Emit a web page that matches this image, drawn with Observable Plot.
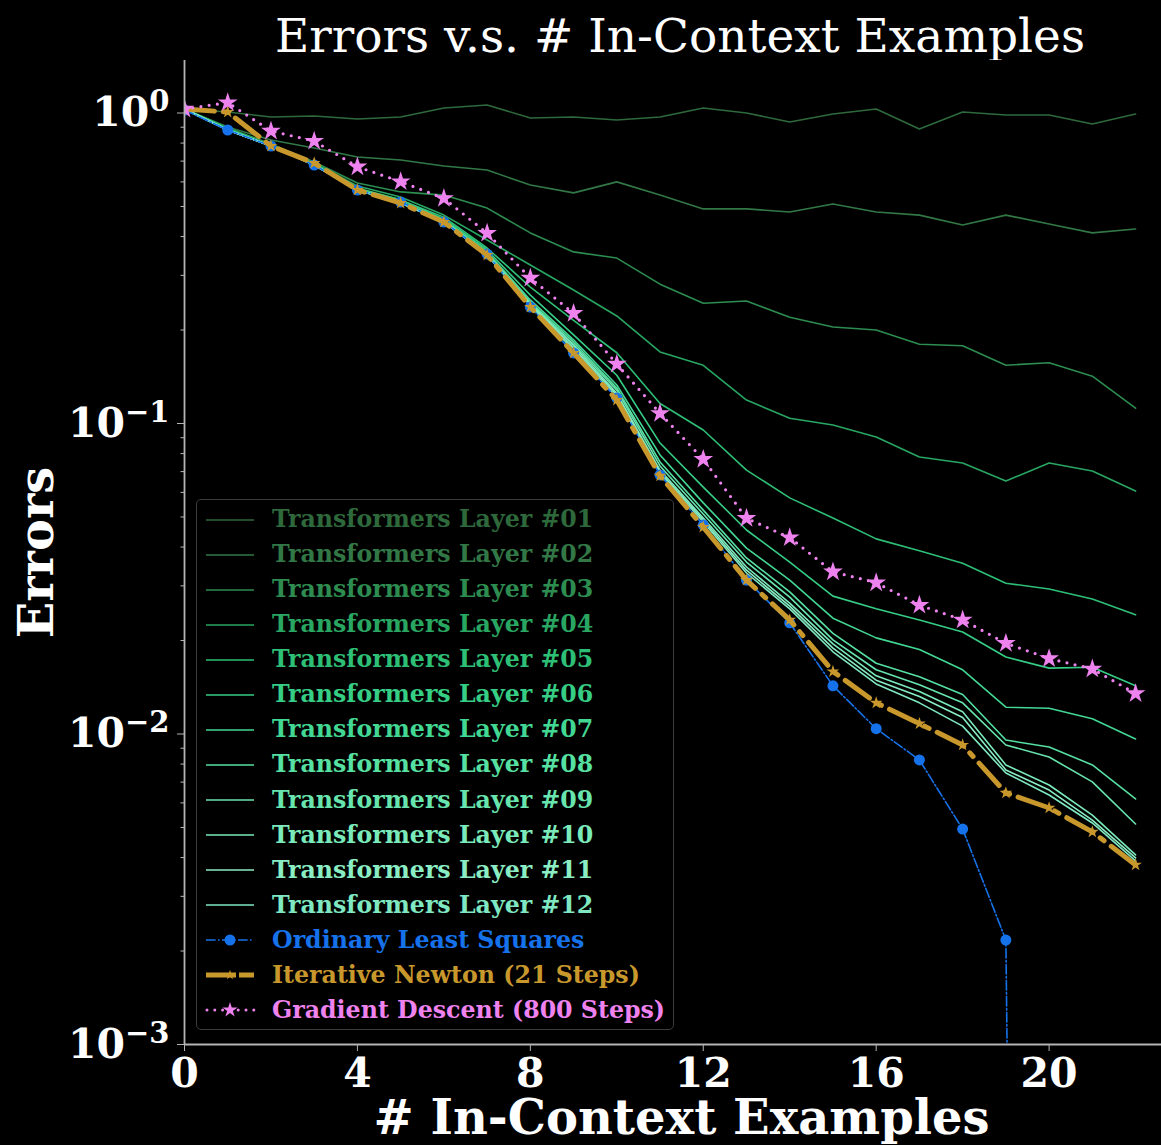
<!DOCTYPE html>
<html>
<head>
<meta charset="utf-8">
<script src="https://cdn.jsdelivr.net/npm/d3@7"></script>
<script src="https://cdn.jsdelivr.net/npm/@observablehq/plot@0.6"></script>
<style>
  html, body { margin: 0; padding: 0; background: #000; }
  #wrap { position: relative; width: 1161px; height: 1145px; overflow: hidden; background: #000; font-family: "DejaVu Serif", serif; }
  #title { position: absolute; left: 0; top: 12px; width: 1360px; text-align: center; color: #fff; font-size: 47px; line-height: 47px; font-weight: normal; white-space: nowrap; }
  #chart { position: absolute; left: 0; top: 60px; }
  #legend { position: absolute; left: 196px; top: 499px; width: 478px; height: 531px; border: 1.5px solid #3c3c3c; border-radius: 5px; background: rgba(0,0,0,0.85); box-sizing: border-box; padding-top: 2px; }
  .row { position: relative; height: 35.07px; }
  .row svg { position: absolute; left: 8px; top: 7.5px; }
  .row span { position: absolute; left: 75px; top: 0; line-height: 35px; font-size: 23.7px; font-weight: bold; white-space: nowrap; }
</style>
</head>
<body>
<div id="wrap">
  <div id="title">Errors v.s. # In-Context Examples</div>
  <div id="chart"></div>
  <div id="legend"></div>
</div>
<script>
// ---- data ----
const xs = [0,1,2,3,4,5,6,7,8,9,10,11,12,13,14,15,16,17,18,19,20,21,22];

const layer01 = [1.030,1.007,0.971,0.978,0.956,0.971,1.038,1.061,0.964,0.971,0.949,0.971,1.038,1.000,0.935,0.993,1.030,0.888,1.007,0.985,0.985,0.922,0.993];
const layer02 = [1.030,0.901,0.819,0.771,0.722,0.706,0.675,0.655,0.586,0.553,0.600,0.544,0.491,0.491,0.480,0.509,0.480,0.469,0.436,0.469,0.439,0.411,0.423];
const layer03 = [1.030,0.895,0.795,0.695,0.595,0.557,0.544,0.494,0.411,0.357,0.341,0.281,0.244,0.248,0.220,0.2045,0.200,0.180,0.178,0.154,0.157,0.142,0.112];
const layer04 = [1.030,0.895,0.789,0.690,0.582,0.536,0.469,0.390,0.324,0.269,0.222,0.170,0.154,0.119,0.104,0.0989,0.0905,0.0780,0.0746,0.0653,0.0746,0.0703,0.0606];
const layer05 = [1.030,0.888,0.783,0.685,0.573,0.525,0.462,0.3675,0.275,0.215,0.169,0.116,0.0953,0.0708,0.0576,0.0496,0.0425,0.0389,0.0355,0.0306,0.0293,0.0272,0.0242];
const layer06 = [1.030,0.888,0.783,0.685,0.569,0.525,0.456,0.362,0.259,0.193,0.143,0.0865,0.0624,0.0454,0.0358,0.0278,0.0253,0.0233,0.0213,0.0177,0.0163,0.0164,0.0143];
const layer07 = [1.030,0.882,0.783,0.680,0.569,0.517,0.452,0.357,0.250,0.186,0.133,0.0792,0.0555,0.0397,0.0313,0.0236,0.0204,0.0187,0.0161,0.0122,0.0121,0.0112,0.00964];
const layer08 = [1.030,0.882,0.783,0.680,0.565,0.517,0.449,0.354,0.246,0.183,0.130,0.0752,0.0526,0.0369,0.0287,0.0211,0.0169,0.0153,0.0134,0.00956,0.00908,0.00795,0.00618];
const layer09 = [1.030,0.882,0.783,0.680,0.565,0.517,0.449,0.351,0.244,0.180,0.128,0.0730,0.0511,0.0358,0.0276,0.0201,0.0161,0.0144,0.0126,0.00922,0.00843,0.00701,0.00513];
const layer10 = [1.030,0.882,0.783,0.680,0.565,0.513,0.446,0.351,0.2425,0.178,0.125,0.0708,0.0496,0.0345,0.0264,0.0195,0.0154,0.0137,0.0118,0.00795,0.00685,0.00548,0.00408];
const layer11 = [1.030,0.882,0.783,0.680,0.565,0.513,0.446,0.349,0.241,0.175,0.1235,0.0698,0.0489,0.0337,0.0258,0.0189,0.0149,0.0132,0.0113,0.00766,0.00660,0.00528,0.00399];
const layer12 = [1.030,0.882,0.783,0.680,0.565,0.513,0.446,0.349,0.239,0.1725,0.1217,0.0688,0.0482,0.0330,0.0253,0.0184,0.0145,0.0126,0.0106,0.00749,0.00636,0.00517,0.00390];

const olsValues = [1.0225,0.8815,0.7829,0.6801,0.5650,0.5169,0.4456,0.3514,0.2372,0.1687,0.1208,0.0683,0.0471,0.0313,0.0228,0.0143,0.0104,0.00825,0.00494,0.00217,1e-15];
const newtonValues = [1.030,1.007,0.7829,0.690,0.565,0.513,0.4456,0.3488,0.2372,0.1687,0.1190,0.0678,0.0464,0.0313,0.0233,0.0159,0.0126,0.0108,0.00922,0.00646,0.00578,0.00484,0.00379];
const gdValues = [1.030,1.080,0.875,0.812,0.671,0.601,0.531,0.410,0.294,0.2264,0.1554,0.1078,0.0767,0.0495,0.0429,0.0333,0.0307,0.0260,0.0233,0.0196,0.0175,0.0162,0.0135];

const layerNames = ["Transformers Layer #01","Transformers Layer #02","Transformers Layer #03","Transformers Layer #04","Transformers Layer #05","Transformers Layer #06","Transformers Layer #07","Transformers Layer #08","Transformers Layer #09","Transformers Layer #10","Transformers Layer #11","Transformers Layer #12"];
const olsName = "Ordinary Least Squares";
const newtonName = "Iterative Newton (21 Steps)";
const gdName = "Gradient Descent (800 Steps)";

const xTicks = [0,4,8,12,16,20];
const yMajorTicks = [0.001,0.01,0.1,1];

// ---- styles ----
const layerSeries = [layer01,layer02,layer03,layer04,layer05,layer06,layer07,layer08,layer09,layer10,layer11,layer12];
const layerColors = ["#2e693c","#327846","#2d8c50","#28a662","#2ebf76","#36cd85","#42d793","#56e0a2","#68e5ae","#7beaba","#8aedc3","#7fe8c2"];
const olsColor = "#1672ea";
const newtonColor = "#c8982c";
const gdColor = "#ee82ee";
const spineColor = "#b4b4b4";

const yMinorTicks = yMajorTicks.slice(0, -1).flatMap(d => [2,3,4,5,6,7,8,9].map(k => k * d));
const xOf = (d, i) => xs[i];

const marks = [];
layerSeries.forEach((vals, i) => {
  marks.push(Plot.line(vals, {x: xOf, y: d => d, stroke: layerColors[i], strokeWidth: 1.6, clip: true}));
});
marks.push(
  Plot.line(olsValues, {x: xOf, y: d => d, stroke: olsColor, strokeWidth: 1.6, strokeDasharray: "9.6,2.4,1.6,2.4", clip: true}),
  Plot.dot(olsValues, {x: xOf, y: d => d, fill: olsColor, r: 5.5, clip: true}),
  Plot.line(newtonValues, {x: xOf, y: d => d, stroke: newtonColor, strokeWidth: 5, strokeDasharray: "30,9,5,9", clip: true}),
  Plot.dot(newtonValues, {x: xOf, y: d => d, fill: newtonColor, symbol: "star", r: 4, clip: true}),
  Plot.line(gdValues, {x: xOf, y: d => d, stroke: gdColor, strokeWidth: 3.2, strokeDasharray: "0,8.3", strokeLinecap: "round", clip: true}),
  Plot.dot(gdValues, {x: xOf, y: d => d, fill: gdColor, symbol: "star", r: 6.2, clip: true}),
  Plot.ruleX([0], {stroke: spineColor, strokeWidth: 1.8}),
  Plot.ruleY([0.001], {stroke: spineColor, strokeWidth: 1.8}),
  Plot.axisX({ticks: xTicks, tickSize: 7, tickPadding: 6, stroke: spineColor, fill: "#fff", fontSize: 41, fontWeight: "bold", label: null, tickFormat: d => String(d)}),
  Plot.axisY({ticks: yMinorTicks, tickSize: 3.5, stroke: spineColor, tickFormat: () => "", label: null}),
  Plot.axisY({ticks: yMajorTicks, tickSize: 7, tickPadding: 8, stroke: spineColor, fill: "#fff", fontSize: 41, fontWeight: "bold", label: null, tickFormat: d => "10^" + Math.round(Math.log10(d))}),
  Plot.text(["Errors"], {frameAnchor: "left", dx: -147, rotate: -90, fontSize: 48, fontWeight: "bold", fill: "#fff", textAnchor: "middle", lineAnchor: "middle"}),
  Plot.text(["# In-Context Examples"], {frameAnchor: "bottom", dx: 8.5, dy: 89, fontSize: 48, fontWeight: "bold", fill: "#fff", textAnchor: "middle", lineAnchor: "bottom"})
);

const svg = Plot.plot({
  width: 1161,
  height: 1085,
  marginLeft: 184,
  marginRight: 0,
  marginTop: 0,
  marginBottom: 101,
  style: {background: "#000", color: "#fff", fontFamily: "'DejaVu Serif', serif", overflow: "visible"},
  x: {domain: [0, 22.6]},
  y: {type: "log", domain: [0.001, 1.476]},
  marks
});
document.getElementById("chart").appendChild(svg);

// y tick labels as 10 with a superscript exponent
d3.select(svg).selectAll('g[aria-label="y-axis tick label"] text').each(function() {
  const t = this.textContent;
  if (!t || t.indexOf("^") < 0) return;
  const exp = t.split("^")[1].replace("-", "\u2212");
  const sel = d3.select(this);
  sel.text("");
  sel.append("tspan").text("10");
  sel.append("tspan").attr("dy", "-15").attr("font-size", 29).text(exp);
});
d3.select(svg).selectAll('g[aria-label="x-axis tick label"] text').attr("font-weight", "bold");

// legend
const legend = d3.select("#legend");
function addRow(name, color, draw) {
  const row = legend.append("div").attr("class", "row");
  const s = row.append("svg").attr("width", 52).attr("height", 20);
  draw(s);
  row.append("span").style("color", color).text(name);
}
layerNames.forEach((name, i) => addRow(name, layerColors[i], s => {
  s.append("line").attr("x1", 1).attr("x2", 49).attr("y1", 10).attr("y2", 10).attr("stroke", layerColors[i]).attr("stroke-width", 1.6);
}));
addRow(olsName, olsColor, s => {
  s.append("line").attr("x1", 1).attr("x2", 49).attr("y1", 10).attr("y2", 10).attr("stroke", olsColor).attr("stroke-width", 1.6).attr("stroke-dasharray", "9.6,2.4,1.6,2.4");
  s.append("circle").attr("cx", 25).attr("cy", 10).attr("r", 5.5).attr("fill", olsColor);
});
addRow(newtonName, newtonColor, s => {
  s.append("line").attr("x1", 1).attr("x2", 49).attr("y1", 10).attr("y2", 10).attr("stroke", newtonColor).attr("stroke-width", 5).attr("stroke-dasharray", "30,3,16");
  s.append("path").attr("d", d3.symbol(d3.symbolStar, 30)()).attr("transform", "translate(25,10)").attr("fill", newtonColor);
});
addRow(gdName, gdColor, s => {
  s.append("line").attr("x1", 2).attr("x2", 49).attr("y1", 10).attr("y2", 10).attr("stroke", gdColor).attr("stroke-width", 3).attr("stroke-linecap", "round").attr("stroke-dasharray", "0,7.8");
  s.append("path").attr("d", d3.symbol(d3.symbolStar, 70)()).attr("transform", "translate(25,10)").attr("fill", gdColor);
});
</script>
</body>
</html>
